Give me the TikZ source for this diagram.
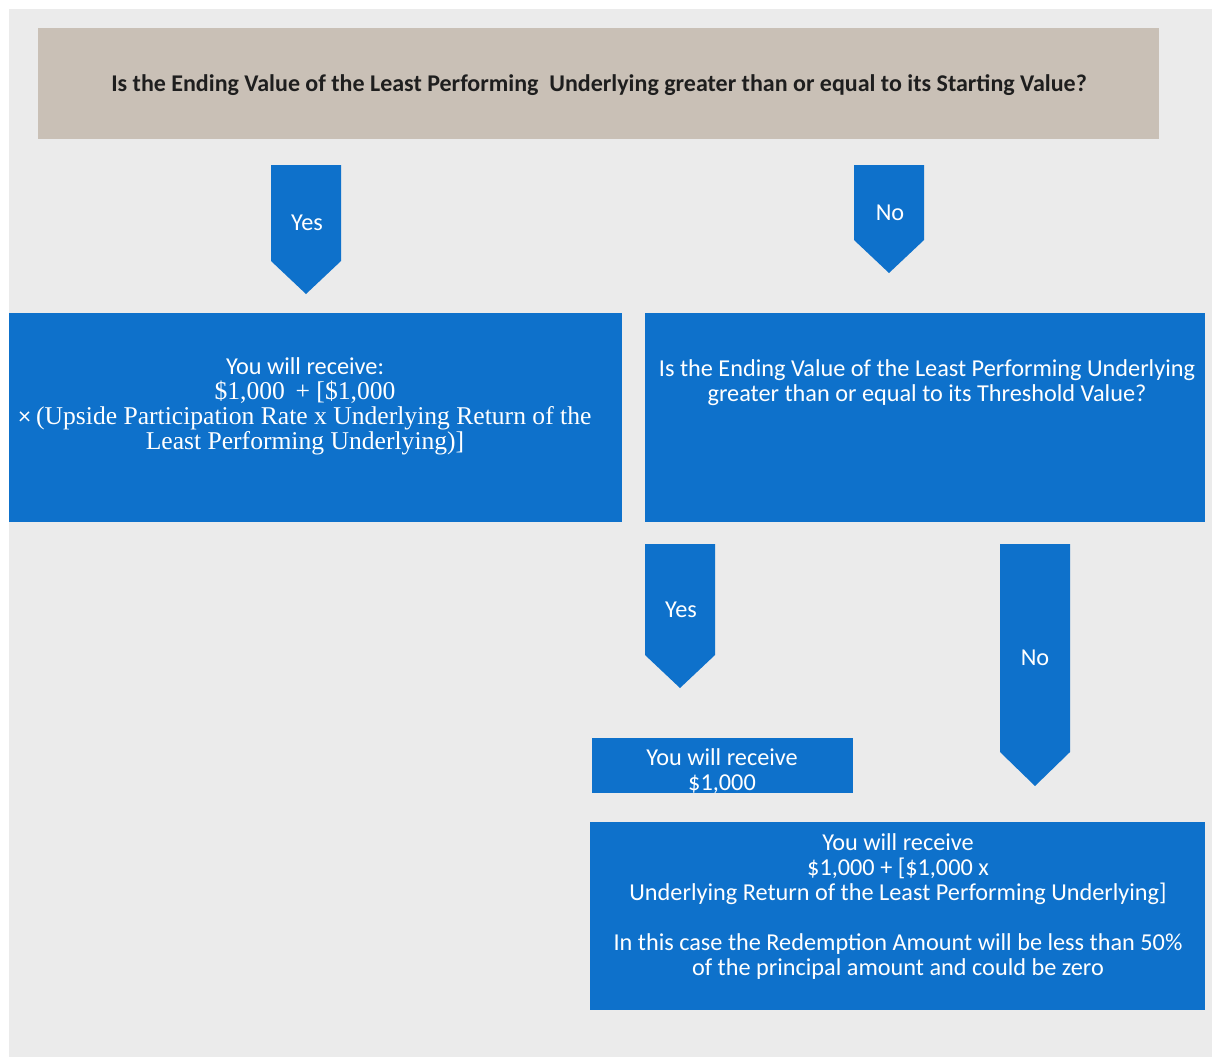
\documentclass[tikz,border=0pt]{standalone}
\usepackage{fontspec}
\setmainfont{Carlito}
\newfontfamily\cambria{Liberation Serif}
\definecolor{bg}{HTML}{EBEBEB}
\definecolor{topbox}{HTML}{C9C0B6}
\definecolor{blu}{HTML}{0E71CB}
\definecolor{ink}{HTML}{1E1E1E}
\tikzset{
  x=0.75pt, y=-0.75pt,
  bluebox/.style={fill=blu, draw=none},
  blocklabel/.style={text=white, font=\fontsize{18.2}{18.75}\selectfont, inner sep=0pt, align=center},
  boxtext/.style={text=white, font=\fontsize{18.2}{18.75}\selectfont, inner sep=0pt, align=center},
  toptext/.style={text=ink, font=\fontsize{18}{18.75}\selectfont\bfseries, inner sep=0pt, align=center},
  downarrow/.style={fill=blu, draw=none}
}
\begin{document}
\begin{tikzpicture}
\useasboundingbox (0,0) rectangle (1212,1057);
\fill[white] (0,0) rectangle (1212,1057);
\fill[bg] (9,9) rectangle (1212,1057);

% top question
\fill[topbox] (38,28) rectangle (1159,139);
\node[toptext] (q1) at (599,85) {Is the Ending Value of the Least Performing\ \ Underlying greater than or equal to its Starting Value?};

% Yes arrow 1
\path[downarrow] (271,165) -- (341,165) -- (341,261) -- (306,294) -- (271,261) -- cycle;
\node[blocklabel] (yes1) at (307,223) {Yes};
% No arrow 1
\path[downarrow] (854,165) -- (924,165) -- (924,240) -- (889,273) -- (854,240) -- cycle;
\node[blocklabel] (no1) at (890,213) {No};

% left result box
\fill[bluebox] (9,313) rectangle (622,522);
\node[boxtext] (r1) at (305,406) {You will receive:\\
{\cambria\fontsize{19.2}{18.75}\selectfont \$1,000\, + [\$1,000}\\
× {\cambria\fontsize{19.2}{18.75}\selectfont (Upside Participation Rate x Underlying Return of the}\\
{\cambria\fontsize{19.2}{18.75}\selectfont Least Performing Underlying)]}};

% right question box
\fill[bluebox] (645,313) rectangle (1205,522);
\node[boxtext] (q2) at (927,383) {Is the Ending Value of the Least Performing Underlying\\greater than or equal to its Threshold Value?};

% Yes arrow 2
\path[downarrow] (645,544) -- (715,544) -- (715,655) -- (680,688) -- (645,655) -- cycle;
\node[blocklabel] (yes2) at (681,610) {Yes};
% No arrow 2
\path[downarrow] (1000,544) -- (1070,544) -- (1070,752) -- (1035,786) -- (1000,752) -- cycle;
\node[blocklabel] (no2) at (1035,658) {No};

% small result box
\fill[bluebox] (592,738) rectangle (853,793);
\node[boxtext] (r2) at (722,771) {You will receive\\\$1,000};

% bottom result box
\fill[bluebox] (590,822) rectangle (1205,1010);
\node[boxtext] (r3) at (898,907) {You will receive\\\$1,000 + [\$1,000 x\\Underlying Return of the Least Performing Underlying]\\[18.75pt]In this case the Redemption Amount will be less than 50\%\\of the principal amount and could be zero};
\end{tikzpicture}
\end{document}
